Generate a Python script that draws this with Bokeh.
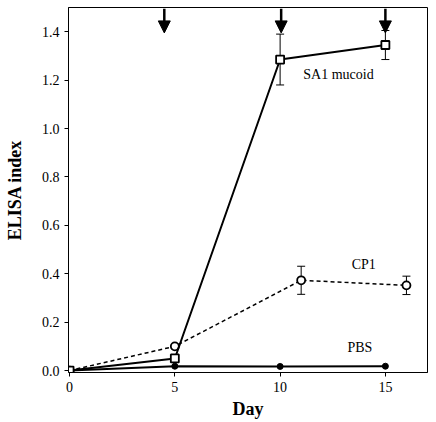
from bokeh.plotting import figure
from bokeh.models import Range1d, FixedTicker, NumeralTickFormatter, Whisker, TeeHead, Arrow, NormalHead, ColumnDataSource, Label
from bokeh.embed import file_html
from bokeh.resources import INLINE

# data
sa1_day = [0, 5, 10, 15]
sa1_val = [0.0, 0.05, 1.285, 1.345]
sa1_err = [0.0, 0.0, 0.105, 0.06]

cp1_day = [0, 5, 11, 16]
cp1_val = [0.0, 0.10, 0.373, 0.352]
cp1_err = [0.0, 0.0, 0.058, 0.038]

pbs_day = [0, 5, 10, 15]
pbs_val = [0.0, 0.018, 0.017, 0.018]

arrow_days = [4.5, 10.05, 15.0]
x_ticks = [0, 5, 10, 15]
y_ticks = [0.0, 0.2, 0.4, 0.6, 0.8, 1.0, 1.2, 1.4]

FONT = "Liberation Serif"

p = figure(width=432, height=421, output_backend="svg", toolbar_location=None,
           x_range=Range1d(-0.05, 17.0), y_range=Range1d(-0.008, 1.5),
           min_border_left=68, min_border_right=5, min_border_top=7, min_border_bottom=47)

p.xgrid.visible = False
p.ygrid.visible = False
p.outline_line_color = "black"
p.outline_line_width = 1
p.outline_line_alpha = 1
p.background_fill_color = "white"
p.border_fill_color = "white"

for ax in (p.xaxis[0], p.yaxis[0]):
    ax.axis_line_color = "black"
    ax.major_tick_line_color = "black"
    ax.minor_tick_line_color = None
    ax.major_tick_out = 4
    ax.major_tick_in = 0
    ax.major_label_text_font = FONT
    ax.major_label_text_font_size = "14px"
    ax.major_label_text_color = "black"
    ax.axis_label_text_font = FONT
    ax.axis_label_text_font_style = "bold"
    ax.axis_label_text_font_size = "18px"
    ax.axis_label_text_color = "black"

p.xaxis.ticker = FixedTicker(ticks=x_ticks)
p.yaxis.ticker = FixedTicker(ticks=y_ticks)
p.yaxis.formatter = NumeralTickFormatter(format="0.0")
p.xaxis.axis_label = "Day"
p.yaxis.axis_label = "ELISA index"
p.xaxis.major_label_standoff = 5
p.xaxis.axis_label_standoff = 4
p.yaxis.major_label_standoff = 5
p.yaxis.axis_label_standoff = 14

# error bars
def add_err(days, vals, errs):
    idx = [i for i, e in enumerate(errs) if e > 0]
    src = ColumnDataSource(dict(x=[days[i] for i in idx],
                                lo=[vals[i] - errs[i] for i in idx],
                                hi=[vals[i] + errs[i] for i in idx]))
    w = Whisker(source=src, base="x", lower="lo", upper="hi", dimension="height",
                line_color="black", line_width=1,
                upper_head=TeeHead(size=8, line_color="black", line_width=1),
                lower_head=TeeHead(size=8, line_color="black", line_width=1))
    p.add_layout(w)

add_err(sa1_day, sa1_val, sa1_err)
add_err(cp1_day, cp1_val, cp1_err)

# PBS
p.line(pbs_day, pbs_val, line_color="black", line_width=2)
p.scatter(pbs_day, pbs_val, marker="circle", size=6, fill_color="black", line_color="black")

# CP1
p.line(cp1_day, cp1_val, line_color="black", line_width=1.5, line_dash="4 3")
p.scatter(cp1_day, cp1_val, marker="circle", size=8, fill_color="white", line_color="black", line_width=1.8)

# SA1 mucoid
p.line(sa1_day, sa1_val, line_color="black", line_width=2)
p.scatter(sa1_day, sa1_val, marker="square", size=8, fill_color="white", line_color="black", line_width=1.8)

# arrows
for d in arrow_days:
    p.add_layout(Arrow(x_start=d, y_start=1.495, x_end=d, y_end=1.395,
                       line_color="black", line_width=2.5,
                       end=NormalHead(size=12, fill_color="black", line_color="black")))

# labels
p.add_layout(Label(x=11.1, y=1.225, text="SA1 mucoid", text_font=FONT, text_font_size="14px",
                   text_color="black", text_baseline="middle"))
p.add_layout(Label(x=13.4, y=0.44, text="CP1", text_font=FONT, text_font_size="14px",
                   text_color="black", text_baseline="middle"))
p.add_layout(Label(x=13.2, y=0.095, text="PBS", text_font=FONT, text_font_size="14px",
                   text_color="black", text_baseline="middle"))

open("out.html", "w").write(file_html(p, INLINE))
